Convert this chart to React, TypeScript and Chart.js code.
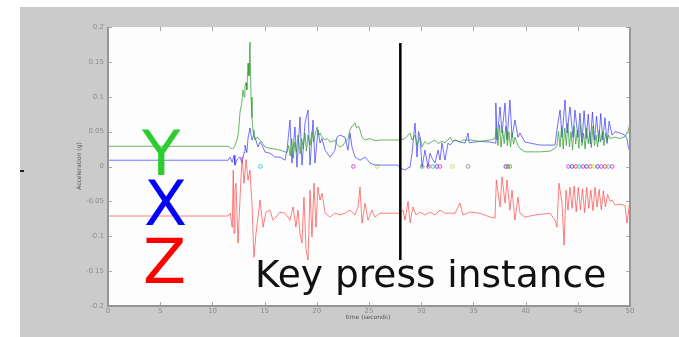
import React, { useEffect, useRef } from "react";
import { Chart, registerables } from "chart.js";

Chart.register(...registerables);

// ---------- data ----------
const xTickLabels = ["0", "5", "10", "15", "20", "25", "30", "35", "40", "45", "50"];
const yTickLabels = ["-0.2", "-0.15", "-0.1", "-0.05", "0", "0.05", "0.1", "0.15", "0.2"];

// Y axis acceleration (green)
const yTime = [0, 2.4, 11.5, 11.7, 11.9, 12.1, 12.36, 12.5, 12.64, 12.8, 12.93, 13.03, 13.12, 13.22, 13.3, 13.41, 13.5, 13.6, 13.7, 13.79, 13.89, 13.98, 14.08, 14.3, 14.56, 14.8, 15.04, 15.52, 16.0, 16.48, 16.95, 17.15, 17.3, 17.45, 17.6, 17.75, 17.9, 18.05, 18.2, 18.4, 18.55, 18.7, 18.87, 19.0, 19.16, 19.35, 19.54, 19.7, 19.83, 20.02, 20.2, 20.31, 20.5, 20.79, 21.0, 21.26, 21.5, 21.74, 21.93, 22.22, 22.5, 22.7, 22.99, 23.18, 23.4, 23.66, 23.8, 24.0, 24.14, 24.33, 24.62, 25.1, 25.57, 26.05, 27.0, 27.97, 28.45, 28.93, 29.12, 29.41, 29.6, 29.89, 30.08, 30.36, 30.65, 30.84, 31.32, 31.61, 31.99, 32.28, 32.57, 32.76, 33.0, 33.24, 33.72, 34.0, 34.48, 34.67, 35.63, 36.6, 37.07, 37.2, 37.35, 37.5, 37.65, 37.8, 37.95, 38.1, 38.25, 38.4, 38.55, 38.7, 38.85, 38.98, 39.27, 39.46, 39.94, 40.42, 41.38, 42.34, 42.82, 43.0, 43.15, 43.3, 43.45, 43.6, 43.75, 43.9, 44.05, 44.2, 44.35, 44.5, 44.65, 44.8, 44.95, 45.1, 45.25, 45.4, 45.55, 45.7, 45.85, 46.0, 46.15, 46.3, 46.45, 46.6, 46.75, 46.9, 47.05, 47.2, 47.35, 47.5, 47.65, 47.8, 47.95, 48.1, 48.56, 49.04, 49.52, 49.81, 50.0];
const yAccel = [0.029, 0.029, 0.029, 0.027, 0.025, 0.028, 0.038, 0.05, 0.077, 0.09, 0.11, 0.1, 0.115, 0.12, 0.11, 0.148, 0.13, 0.1785, 0.0996, 0.07, 0.052, 0.045, 0.038, 0.042, 0.038, 0.033, 0.028, 0.026, 0.025, 0.0235, 0.021, 0.02, 0.03, 0.015, 0.04, 0.012, 0.035, 0.02, 0.045, 0.018, 0.04, 0.025, 0.048, 0.022, 0.045, 0.03, 0.05, 0.035, 0.045, 0.0566, 0.045, 0.048, 0.042, 0.038, 0.04, 0.035, 0.036, 0.038, 0.032, 0.028, 0.03, 0.035, 0.04, 0.0524, 0.058, 0.0623, 0.055, 0.058, 0.0524, 0.042, 0.038, 0.04, 0.037, 0.038, 0.038, 0.038, 0.04, 0.048, 0.038, 0.045, 0.03, 0.042, 0.028, 0.036, 0.032, 0.034, 0.038, 0.033, 0.036, 0.034, 0.038, 0.042, 0.036, 0.038, 0.035, 0.038, 0.038, 0.038, 0.036, 0.038, 0.04, 0.055, 0.03, 0.06, 0.028, 0.052, 0.033, 0.058, 0.03, 0.05, 0.028, 0.048, 0.032, 0.042, 0.03, 0.026, 0.021, 0.021, 0.021, 0.022, 0.026, 0.03, 0.05, 0.028, 0.058, 0.025, 0.055, 0.03, 0.062, 0.028, 0.05, 0.024, 0.058, 0.032, 0.052, 0.026, 0.06, 0.03, 0.048, 0.025, 0.055, 0.033, 0.05, 0.027, 0.058, 0.03, 0.045, 0.028, 0.052, 0.035, 0.05, 0.03, 0.048, 0.036, 0.045, 0.04, 0.042, 0.04, 0.043, 0.05, 0.0623];

// X axis acceleration (blue)
const xTime = [0, 2.4, 11.5, 11.7, 11.9, 12.07, 12.16, 12.36, 12.64, 12.84, 13.03, 13.12, 13.3, 13.41, 13.6, 13.79, 13.98, 14.08, 14.37, 14.56, 14.75, 15.04, 15.52, 16.0, 16.48, 16.95, 17.15, 17.43, 17.62, 17.91, 18.1, 18.39, 18.58, 18.87, 19.16, 19.35, 19.64, 19.83, 20.11, 20.31, 20.5, 20.79, 21.26, 21.5, 21.74, 21.93, 22.22, 22.7, 22.99, 23.18, 23.37, 23.66, 24.14, 24.62, 25.1, 25.57, 26.05, 27.0, 27.78, 27.97, 28.26, 28.45, 28.74, 28.93, 29.12, 29.41, 29.6, 29.75, 29.89, 30.08, 30.36, 30.65, 30.84, 31.1, 31.32, 31.61, 31.8, 31.99, 32.28, 32.57, 32.76, 33.24, 33.72, 34.2, 34.48, 34.6, 35.63, 36.6, 37.07, 37.15, 37.26, 37.55, 37.74, 38.03, 38.22, 38.5, 38.7, 38.98, 39.27, 39.46, 39.94, 40.42, 41.38, 42.34, 42.82, 43.0, 43.3, 43.49, 43.77, 43.97, 44.25, 44.54, 44.73, 45.02, 45.21, 45.4, 45.6, 45.8, 46.0, 46.2, 46.4, 46.6, 46.8, 47.0, 47.2, 47.4, 47.6, 47.8, 48.0, 48.28, 48.56, 49.04, 49.52, 49.71, 49.81, 50.0];
const xAccel = [0.009, 0.009, 0.009, 0.0135, 0.006, 0.016, 0.002, 0.01, 0.0135, 0.005, 0.02, 0.0307, 0.02, 0.04, 0.0553, 0.038, 0.045, 0.042, 0.028, 0.035, 0.0307, 0.0207, 0.019, 0.0135, 0.0135, 0.009, 0.0235, 0.0666, 0.005, 0.0566, -0.001, 0.0709, 0.002, 0.0623, 0.081, 0.002, 0.0666, 0.005, 0.0524, 0.0336, 0.04, 0.0235, 0.0135, 0.018, 0.0235, 0.042, 0.045, 0.042, 0.0235, 0.048, 0.028, 0.0135, 0.009, 0.0135, 0.005, 0.002, 0.002, 0.002, 0.002, -0.0023, -0.004, -0.005, -0.002, -0.001, 0.019, 0.0623, 0.0135, 0.05, 0.042, -0.001, 0.0235, -0.001, 0.019, 0.01, 0.005, 0.0235, 0.0092, 0.0336, 0.0092, 0.0336, 0.0307, 0.038, 0.035, 0.0336, 0.048, 0.034, 0.036, 0.035, 0.0336, 0.091, 0.038, 0.0853, 0.048, 0.091, 0.038, 0.0953, 0.042, 0.0666, 0.042, 0.048, 0.035, 0.0336, 0.0307, 0.0307, 0.0307, 0.0524, 0.081, 0.042, 0.0953, 0.048, 0.0853, 0.042, 0.081, 0.042, 0.0766, 0.035, 0.08, 0.04, 0.075, 0.032, 0.078, 0.038, 0.072, 0.035, 0.076, 0.038, 0.07, 0.033, 0.065, 0.045, 0.05, 0.048, 0.045, 0.04, 0.03, 0.02];

// Z axis acceleration (red)
const zTime = [0, 11.5, 11.7, 11.9, 12.0, 12.07, 12.16, 12.26, 12.45, 12.64, 12.84, 13.03, 13.22, 13.41, 13.6, 13.79, 13.98, 14.18, 14.37, 14.56, 14.85, 15.13, 15.52, 15.8, 16.09, 16.48, 16.95, 17.24, 17.43, 17.72, 18.0, 18.2, 18.39, 18.58, 18.77, 18.97, 19.16, 19.35, 19.54, 19.73, 19.92, 20.11, 20.31, 20.5, 20.79, 21.26, 21.74, 22.22, 22.7, 23.18, 23.66, 23.95, 24.14, 24.33, 24.62, 24.9, 25.29, 25.57, 26.05, 27.0, 27.97, 28.26, 28.45, 28.74, 28.93, 29.21, 29.5, 29.89, 30.36, 30.84, 31.32, 31.8, 32.28, 33.24, 33.72, 34.0, 34.67, 35.63, 36.6, 37.07, 37.2, 37.55, 37.74, 38.03, 38.22, 38.5, 38.7, 38.98, 39.27, 39.46, 39.94, 40.9, 42.34, 42.82, 43.0, 43.2, 43.49, 43.68, 43.87, 44.06, 44.25, 44.45, 44.65, 44.85, 45.05, 45.25, 45.45, 45.65, 45.85, 46.05, 46.25, 46.45, 46.65, 46.85, 47.05, 47.25, 47.45, 47.65, 47.85, 48.1, 48.28, 48.56, 49.04, 49.52, 49.71, 50.0];
const zAccel = [-0.071, -0.071, -0.067, -0.087, -0.005, -0.0956, -0.034, -0.024, -0.11, -0.048, 0.014, -0.024, 0.01, -0.0195, -0.005, -0.0525, -0.13, -0.0956, -0.0725, -0.048, -0.087, -0.0654, -0.0626, -0.077, -0.0725, -0.0654, -0.067, -0.0725, -0.077, -0.058, -0.087, -0.0626, -0.0956, -0.11, -0.044, -0.12, -0.134, -0.034, -0.101, -0.024, -0.087, -0.0296, -0.048, -0.038, -0.067, -0.0725, -0.067, -0.0695, -0.067, -0.0626, -0.0695, -0.058, -0.0296, -0.081, -0.0525, -0.077, -0.0626, -0.0725, -0.067, -0.067, -0.067, -0.0626, -0.077, -0.05, -0.081, -0.058, -0.0695, -0.0654, -0.0695, -0.0654, -0.0695, -0.0626, -0.067, -0.067, -0.0525, -0.0695, -0.0654, -0.067, -0.0725, -0.074, -0.0195, -0.058, -0.015, -0.0525, -0.0195, -0.0626, -0.034, -0.077, -0.044, -0.067, -0.0725, -0.0695, -0.067, -0.077, -0.087, -0.024, -0.0525, -0.113, -0.034, -0.0626, -0.0296, -0.06, -0.028, -0.065, -0.03, -0.062, -0.032, -0.066, -0.03, -0.06, -0.034, -0.063, -0.03, -0.058, -0.033, -0.062, -0.035, -0.058, -0.04, -0.05, -0.048, -0.055, -0.054, -0.056, -0.081, -0.048];

// key-press event markers on the zero line
const markerTimes = [14.6, 23.5, 25.8, 30.1, 30.7, 31.1, 31.5, 31.8, 33.0, 34.5, 38.1, 38.3, 38.5, 44.1, 44.45, 44.8, 45.15, 45.5, 45.85, 46.2, 46.55, 46.9, 47.25, 47.6, 47.95, 48.3];
const markerValues = markerTimes.map(() => 0);
const markerColors = ["#33cccc", "#dd44dd", "#dddd55", "#55bb55", "#ee5555", "#33cccc", "#5555ee", "#dd44dd", "#dddd55", "#999999", "#5555ee", "#ee5555", "#55bb55", "#dd44dd", "#5555ee", "#ee5555", "#33cccc", "#dd44dd", "#5555ee", "#ee5555", "#dddd55", "#5555ee", "#dd44dd", "#ee5555", "#33cccc", "#dd44dd"];

const keyPressTime = 28;
const keyPressTop = 0.177;
const keyPressBottom = -0.134;

const W = 679;
const H = 337;

function pts(t: number[], v: number[]) {
  return t.map((x, i) => ({ x, y: v[i] }));
}

const framePlugin = {
  id: "frame",
  beforeDraw(chart: any) {
    const ctx = chart.ctx;
    const a = chart.chartArea;
    ctx.save();
    ctx.fillStyle = "#ffffff";
    ctx.fillRect(0, 0, W, H);
    ctx.fillStyle = "#cbcbcb";
    ctx.fillRect(20, 7, W - 20, H - 7);
    ctx.fillStyle = "#fdfdfd";
    ctx.fillRect(a.left, a.top, a.right - a.left, a.bottom - a.top);
    ctx.restore();
  },
  afterDraw(chart: any) {
    const ctx = chart.ctx;
    const a = chart.chartArea;
    const xs = chart.scales.x;
    const ys = chart.scales.y;
    ctx.save();
    ctx.strokeStyle = "#a8a8a8";
    ctx.lineWidth = 1;
    ctx.beginPath();
    xs.ticks.forEach((t: any) => {
      const px = Math.round(xs.getPixelForValue(t.value)) + 0.5;
      ctx.moveTo(px, a.bottom);
      ctx.lineTo(px, a.bottom - 4);
      ctx.moveTo(px, a.top);
      ctx.lineTo(px, a.top + 4);
    });
    ys.ticks.forEach((t: any) => {
      const py = Math.round(ys.getPixelForValue(t.value)) + 0.5;
      ctx.moveTo(a.left, py);
      ctx.lineTo(a.left + 4, py);
      ctx.moveTo(a.right, py);
      ctx.lineTo(a.right - 4, py);
    });
    ctx.stroke();
    ctx.strokeStyle = "#959595";
    ctx.lineWidth = 2;
    ctx.beginPath();
    ctx.moveTo(a.left, a.top);
    ctx.lineTo(a.left, a.bottom);
    ctx.lineTo(a.right, a.bottom);
    ctx.lineTo(a.right, a.top);
    ctx.stroke();
    const kx = xs.getPixelForValue(keyPressTime);
    ctx.strokeStyle = "#000000";
    ctx.lineWidth = 2.5;
    ctx.beginPath();
    ctx.moveTo(kx, ys.getPixelForValue(keyPressTop));
    ctx.lineTo(kx, ys.getPixelForValue(keyPressBottom));
    ctx.stroke();
    ctx.restore();
  },
};

export default function App() {
  const ref = useRef<HTMLCanvasElement | null>(null);

  useEffect(() => {
    document.body.style.margin = "0";
    const canvas = ref.current;
    if (!canvas) return;
    const chart = new Chart(canvas, {
      type: "line",
      data: {
        datasets: [
          {
            label: "Z",
            data: pts(zTime, zAccel),
            borderColor: "rgba(255,60,60,0.65)",
            borderWidth: 1,
            pointRadius: 0,
            tension: 0,
          },
          {
            label: "Y",
            data: pts(yTime, yAccel),
            borderColor: "rgba(40,150,40,0.7)",
            borderWidth: 1,
            pointRadius: 0,
            tension: 0,
          },
          {
            label: "X",
            data: pts(xTime, xAccel),
            borderColor: "rgba(40,40,255,0.65)",
            borderWidth: 1,
            pointRadius: 0,
            tension: 0,
          },
          {
            label: "events",
            data: pts(markerTimes, markerValues),
            showLine: false,
            pointRadius: 1.8,
            pointBorderWidth: 1,
            pointBackgroundColor: "rgba(255,255,255,0)",
            pointBorderColor: markerColors,
          },
        ],
      },
      options: {
        responsive: false,
        animation: false,
        devicePixelRatio: 1,
        layout: { padding: { top: 27, right: 49, left: 0, bottom: 0 } },
        plugins: { legend: { display: false }, tooltip: { enabled: false } },
        scales: {
          x: {
            type: "linear",
            min: 0,
            max: 50,
            afterFit: (s: any) => {
              s.height = 31;
            },
            grid: { display: false, drawTicks: false },
            border: { display: false },
            ticks: {
              stepSize: 5,
              padding: 1,
              color: "#8c8c8c",
              font: { size: 7, family: "DejaVu Sans" },
              maxRotation: 0,
              autoSkip: false,
              callback: (_v: any, i: number) => xTickLabels[i],
            },
          },
          y: {
            type: "linear",
            min: -0.2,
            max: 0.2,
            afterFit: (s: any) => {
              s.width = 108;
            },
            grid: { display: false, drawTicks: false },
            border: { display: false },
            ticks: {
              stepSize: 0.05,
              padding: 4,
              color: "#8c8c8c",
              font: { size: 7, family: "DejaVu Sans" },
              autoSkip: false,
              callback: (_v: any, i: number) => yTickLabels[i],
            },
          },
        },
      },
      plugins: [framePlugin],
    });
    return () => chart.destroy();
  }, []);

  const big: React.CSSProperties = {
    position: "absolute",
    fontFamily: "DejaVu Sans, sans-serif",
    fontSize: 63,
    lineHeight: 1,
    margin: 0,
    whiteSpace: "nowrap",
  };

  return (
    <div style={{ position: "absolute", left: 0, top: 0, width: W, height: H, overflow: "hidden" }}>
      <canvas ref={ref} width={W} height={H} style={{ width: W, height: H, display: "block" }} />
      <div
        style={{
          position: "absolute",
          left: 368,
          top: 313,
          transform: "translateX(-50%)",
          fontFamily: "DejaVu Sans, sans-serif",
          fontSize: 6,
          color: "#555",
          whiteSpace: "nowrap",
        }}
      >
        time (seconds)
      </div>
      <div
        style={{
          position: "absolute",
          left: 78,
          top: 166,
          transform: "translate(-50%, -50%) rotate(-90deg)",
          fontFamily: "DejaVu Sans, sans-serif",
          fontSize: 6,
          color: "#555",
          whiteSpace: "nowrap",
        }}
      >
        Acceleration (g)
      </div>
      <div style={{ position: "absolute", left: 20, top: 170, width: 4, height: 2, background: "#222" }} />
      <div style={{ ...big, left: 142, top: 122, color: "#2ecc2e" }}>Y</div>
      <div style={{ ...big, left: 144, top: 172, color: "#0000ff" }}>X</div>
      <div style={{ ...big, left: 143, top: 230, color: "#ff0000" }}>Z</div>
      <div
        style={{
          position: "absolute",
          left: 255,
          top: 256,
          fontFamily: "DejaVu Sans, sans-serif",
          fontSize: 37.5,
          lineHeight: 1,
          color: "#111",
          whiteSpace: "nowrap",
        }}
      >
        Key press instance
      </div>
    </div>
  );
}
